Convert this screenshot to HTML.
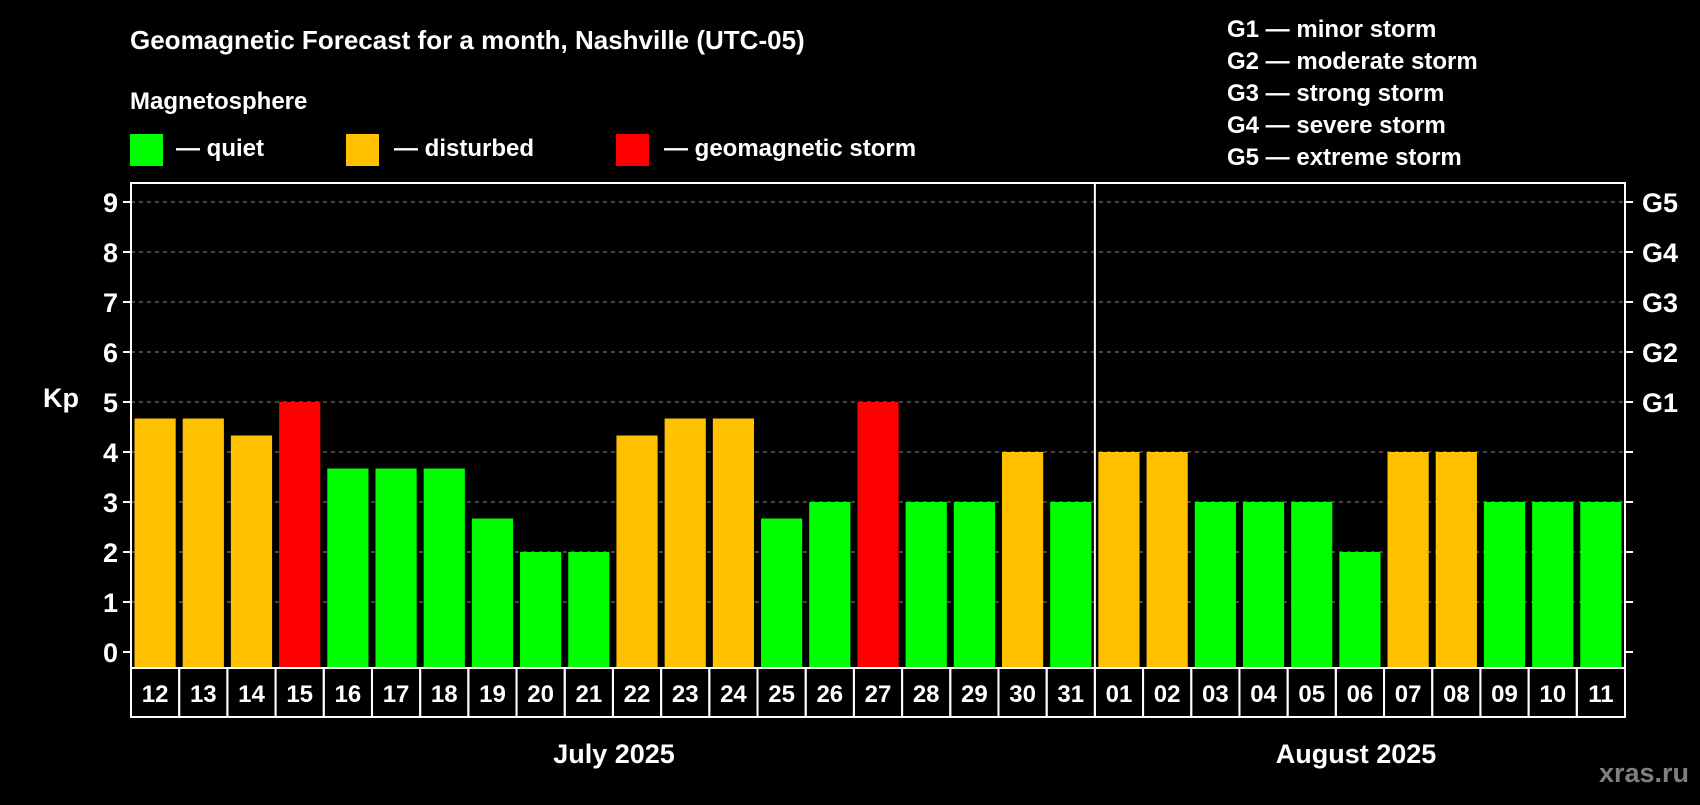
<!DOCTYPE html>
<html><head><meta charset="utf-8"><style>
body{margin:0;background:#000;width:1700px;height:800px;overflow:hidden}
text{font-family:"Liberation Sans",sans-serif;font-weight:bold;fill:#fff}
</style></head><body>
<svg id="chart" width="1700" height="800" xmlns="http://www.w3.org/2000/svg">
<text x="130" y="49" font-size="26">Geomagnetic Forecast for a month, Nashville (UTC-05)</text>
<text x="130" y="109" font-size="24">Magnetosphere</text>
<rect x="130" y="134" width="33" height="32" fill="#00ff00"/>
<text x="176" y="156" font-size="24">— quiet</text>
<rect x="346" y="134" width="33" height="32" fill="#ffc000"/>
<text x="394" y="156" font-size="24">— disturbed</text>
<rect x="616" y="134" width="33" height="32" fill="#ff0000"/>
<text x="664" y="156" font-size="24">— geomagnetic storm</text>
<g font-size="24">
<text x="1227" y="37">G1 — minor storm</text>
<text x="1227" y="69">G2 — moderate storm</text>
<text x="1227" y="101">G3 — strong storm</text>
<text x="1227" y="133">G4 — severe storm</text>
<text x="1227" y="165">G5 — extreme storm</text>
</g>
<text x="43" y="407" font-size="27">Kp</text>
<g id="plot"></g>
<text x="614" y="763" font-size="27" text-anchor="middle">July 2025</text>
<text x="1356" y="763" font-size="27" text-anchor="middle">August 2025</text>
<text x="1689" y="782" font-size="27" text-anchor="end" style="fill:#808080">xras.ru</text>
</svg>
<script>
const days=["12","13","14","15","16","17","18","19","20","21","22","23","24","25","26","27","28","29","30","31","01","02","03","04","05","06","07","08","09","10","11"];
const kp=[4.67,4.67,4.33,5,3.67,3.67,3.67,2.67,2,2,4.33,4.67,4.67,2.67,3,5,3,3,4,3,4,4,3,3,3,2,4,4,3,3,3];
const yTicks=[0,1,2,3,4,5,6,7,8,9];
const gLabels=["","","","","","G1","G2","G3","G4","G5"];
const NS="http://www.w3.org/2000/svg";
const L=131,R=1625,T=183,B=668;
const y=v=>652-v*50;
const bw=(R-L)/days.length;
const x=i=>L+i*bw;
const g=document.getElementById('plot');
function mk(t,a){const e=document.createElementNS(NS,t);for(const k in a)e.setAttribute(k,a[k]);g.appendChild(e);return e;}
yTicks.forEach((v,i)=>{
 if(v>0){const gl=mk('line',{x1:L,x2:R,y1:y(v),y2:y(v),stroke:'#888','stroke-dasharray':'4,4','stroke-width':1});
 }
 const t1=mk('line',{x1:L-8,x2:L,y1:y(v),y2:y(v),stroke:'#fff','stroke-width':2});
 
 const t2=mk('line',{x1:R,x2:R+8,y1:y(v),y2:y(v),stroke:'#fff','stroke-width':2});
 
 const lb=mk('text',{x:L-13,y:y(v)+10,'font-size':27,'text-anchor':'end'});lb.textContent=v;
 
 if(gLabels[i]){const gt=mk('text',{x:R+17,y:y(v)+10,'font-size':27});gt.textContent=gLabels[i];
 }
});
kp.forEach((v,i)=>{
 const c=v>=5?'#ff0000':v>=4?'#ffc000':'#00ff00';
 const b=mk('rect',{x:x(i)+3.5,y:y(v),width:bw-7,height:B-y(v),fill:c});
 
 const cell=mk('rect',{x:x(i),y:B,width:bw,height:49,fill:'none',stroke:'#fff','stroke-width':2});
 
 const t=mk('text',{x:x(i)+bw/2,y:B+34,'font-size':24,'text-anchor':'middle'});t.textContent=days[i];
 
});
const fr=mk('polyline',{points:`${L},${B} ${L},${T} ${R},${T} ${R},${B}`,fill:'none',stroke:'#fff','stroke-width':2});

const dv=mk('line',{x1:x(20),x2:x(20),y1:T,y2:B,stroke:'#fff','stroke-width':2});

</script>
</body></html>
